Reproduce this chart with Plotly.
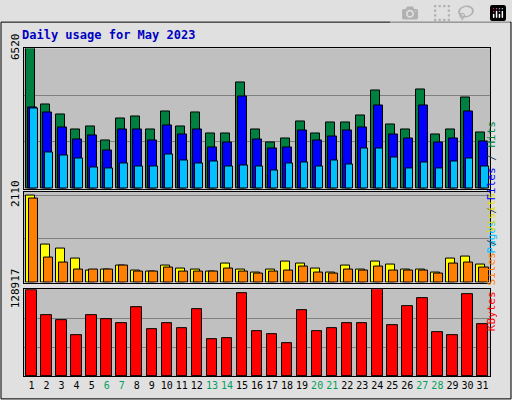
import plotly.graph_objects as go

days = list(range(1, 32))
weekend = {6, 7, 13, 14, 20, 21, 27, 28}
hits_y = [29,88,99,114,111,126,103,101,115,96,111,97,119,119,65,115,128,124,106,119,107,107,100,73,109,115,72,120,115,81,118]
files_y = [91,97,112,125,121,137,115,114,126,110,120,114,134,128,80,125,135,133,116,126,122,116,112,89,120,124,89,128,124,95,127]
pages_y = [92,139,142,145,155,156,150,153,154,141,147,150,148,153,152,153,158,150,149,154,147,151,135,135,144,156,149,156,148,145,153]
visits_y = [184,236,240,251,263,262,258,263,264,258,261,262,264,256,262,265,262,254,256,261,265,258,262,254,257,262,262,265,251,249,257]
sites_y = [187,250,255,262,262,262,258,264,264,260,264,264,264,261,264,266,264,263,259,265,267,262,263,259,263,263,263,266,256,255,260]
kb_y = [284,310,316,332,310,315,319,302,325,319,324,304,336,335,287,327,331,340,305,327,324,319,319,283,321,301,292,328,332,288,320]

hits = [round((177-y)/148*6520) for y in hits_y]
files = [round((177-y)/148*6520) for y in files_y]
pages = [round((177-y)/148*6520) for y in pages_y]
visits = [round((276-y)/92*2110) for y in visits_y]
sites = [round((276-y)/92*2110) for y in sites_y]
kbytes = [round((375-y)/91*128917) for y in kb_y]
HMAX, VMAX, KMAX = 6520, 2110, 128917

fig = go.Figure()
def bar(x, y, color, off, w, ax):
    fig.add_trace(go.Bar(x=x, y=y, marker=dict(color=color, line=dict(color="black", width=1)),
                         offset=off, width=w, xaxis="x"+ax, yaxis="y"+ax, showlegend=False))
bar(days, hits, "#008040", -0.4, 0.6, "")
bar(days, files, "#0000ff", -0.25, 0.6, "")
bar(days, pages, "#00c0ff", -0.1, 0.5, "")
bar(days, visits, "#ffff00", -0.4, 0.6, "2")
bar(days, sites, "#ff8000", -0.2, 0.6, "2")
bar(days, kbytes, "#ff0000", -0.35, 0.7, "3")

ticktext = [f'<span style="color:{"#00a060" if d in weekend else "black"}">{d}</span>' for d in days]
xd = [24/512, 490/512]
font = dict(family="DejaVu Sans Mono", size=11, color="black")
common_x = dict(range=[0.5, 31.5], domain=xd, showgrid=False, zeroline=False, showline=True,
                linecolor="black", mirror=True, fixedrange=True)
def yax(dom, mx, top, mid=False):
    return dict(domain=dom, range=[0, top], tickvals=[mx/2, mx] if mid else [mx/3, 2*mx/3, mx],
                ticktext=["", str(mx)] if mid else ["", "", str(mx)], tickangle=-90,
                showgrid=True, gridcolor="#808080", gridwidth=1, zeroline=False, showline=True,
                linecolor="black", mirror=True, ticks="", tickfont=font, fixedrange=True)
fig.update_layout(
    width=512, height=400, autosize=False, margin=dict(l=0, r=0, t=0, b=0),
    paper_bgcolor="#e0e0e0", plot_bgcolor="#c0c0c0", barmode="overlay", bargap=0,
    xaxis=dict(common_x, showticklabels=False, anchor="y"),
    xaxis2=dict(common_x, showticklabels=False, anchor="y2"),
    xaxis3=dict(common_x, tickvals=days, ticktext=ticktext, tickfont=dict(font, size=10),
                tickangle=0, ticks="", anchor="y3"),
    yaxis=yax([1-177/400, 1-29/400], HMAX, HMAX*1.0),
    yaxis2=yax([0.31, 0.55], VMAX, VMAX*96/92, True),
    yaxis3=yax([0.0625, 0.2925], KMAX, KMAX*92/91),
    shapes=[dict(type="rect", xref="paper", yref="paper", x0=0.002, y0=0.003, x1=0.998, y1=0.997,
                 line=dict(color="black", width=1))],
    annotations=[
        dict(text="<b>Daily usage for May 2023</b>", x=20/512, y=1-15/400, xref="paper", yref="paper",
             xanchor="left", yanchor="middle", showarrow=False,
             font=dict(family="DejaVu Sans Mono", size=12, color="#0000c0")),
        dict(text='<span style="color:#00c0ff">Pages</span> / <span style="color:#0000ff">Files</span> / <span style="color:#008040">Hits</span>',
             x=500/512, y=1-103/400, xref="paper", yref="paper", textangle=-90, showarrow=False,
             font=dict(family="DejaVu Sans Mono", size=11)),
        dict(text='<span style="color:#ff8000">Sites</span> / <span style="color:#e0e000">Visits</span>',
             x=500/512, y=1-230/400, xref="paper", yref="paper", textangle=-90, showarrow=False,
             font=dict(family="DejaVu Sans Mono", size=11)),
        dict(text='<span style="color:#ff0000">KBytes</span>',
             x=500/512, y=1-330/400, xref="paper", yref="paper", textangle=-90, showarrow=False,
             font=dict(family="DejaVu Sans Mono", size=11)),
    ],
)
fig.write_html("out.html", config={"responsive": False},
               post_script="document.body.style.margin='0';document.body.style.overflow='hidden';")
